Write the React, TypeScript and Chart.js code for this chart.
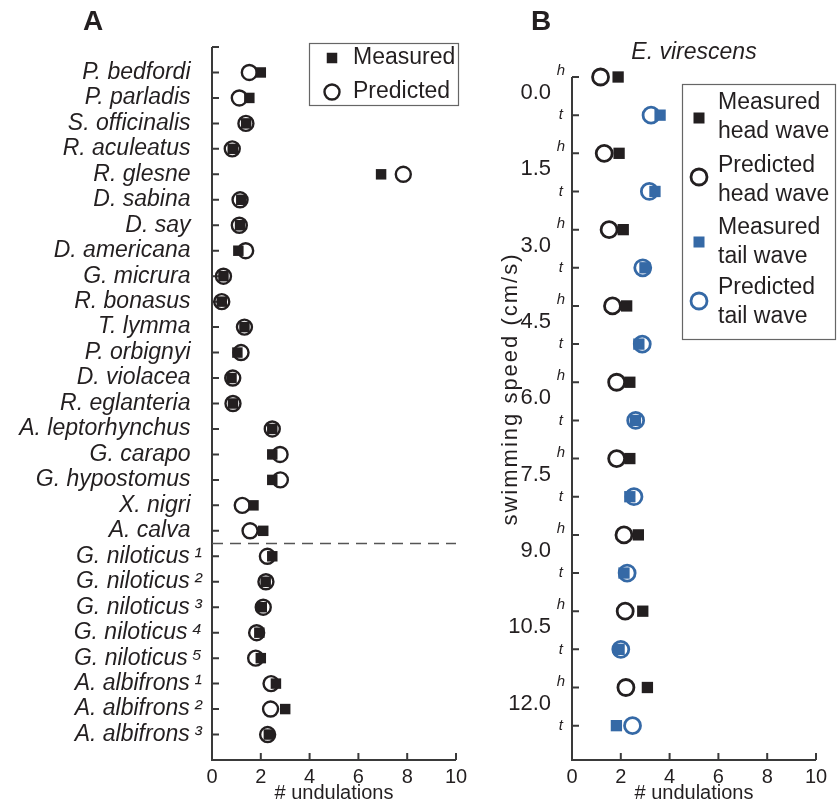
import React, { useEffect, useRef } from 'react';
import { Chart, registerables } from 'chart.js';
Chart.register(...registerables);

const FONT = "'Liberation Sans', Arial, Helvetica, sans-serif";
const INK = '#231f20';
const AXIS = '#3a3a3a';
const BLUE = '#3569a6';

// ---------- Panel A data ----------
const speciesA = [
  'P. bedfordi', 'P. parladis', 'S. officinalis', 'R. aculeatus', 'R. glesne', 'D. sabina', 'D. say',
  'D. americana', 'G. micrura', 'R. bonasus', 'T. lymma', 'P. orbignyi', 'D. violacea', 'R. eglanteria',
  'A. leptorhynchus', 'G. carapo', 'G. hypostomus', 'X. nigri', 'A. calva',
  'G. niloticus', 'G. niloticus', 'G. niloticus', 'G. niloticus', 'G. niloticus',
  'A. albifrons', 'A. albifrons', 'A. albifrons',
];
const specimenA = ['', '', '', '', '', '', '', '', '', '', '', '', '', '', '', '', '', '', '', '¹', '²', '³', '⁴', '⁵', '¹', '²', '³'];
const measuredA = [2.0, 1.53, 1.4, 0.85, 6.93, 1.2, 1.15, 1.08, 0.47, 0.4, 1.33, 1.04, 0.8, 0.86, 2.47, 2.47, 2.47, 1.7, 2.1, 2.47, 2.2, 2.04, 1.94, 2.0, 2.62, 3.0, 2.33];
const predictedA = [1.53, 1.12, 1.39, 0.83, 7.84, 1.15, 1.12, 1.38, 0.47, 0.4, 1.33, 1.19, 0.85, 0.86, 2.47, 2.79, 2.8, 1.24, 1.56, 2.27, 2.21, 2.1, 1.83, 1.79, 2.42, 2.4, 2.28];
const groupSplitAfter = 19;
const xTicks = [0, 2, 4, 6, 8, 10];

// ---------- Panel B data ----------
const speedsB = ['0.0', '1.5', '3.0', '4.5', '6.0', '7.5', '9.0', '10.5', '12.0'];
const waveTags = ['h', 't'];
const measuredHeadB = [1.89, 1.93, 2.1, 2.24, 2.37, 2.37, 2.72, 2.9, 3.09];
const predictedHeadB = [1.17, 1.32, 1.52, 1.66, 1.83, 1.83, 2.13, 2.18, 2.21];
const measuredTailB = [3.61, 3.4, 2.99, 2.74, 2.6, 2.37, 2.13, 1.93, 1.82];
const predictedTailB = [3.24, 3.17, 2.9, 2.88, 2.61, 2.54, 2.26, 2.0, 2.48];

function speciesLabel(i: number) {
  const sup = specimenA[i];
  return sup ? `${speciesA[i]}\u2009${sup}` : `${speciesA[i]}\u2002`;
}

function drawSquare(ctx: CanvasRenderingContext2D, x: number, y: number, side: number, color: string) {
  ctx.fillStyle = color;
  ctx.fillRect(x - side / 2, y - side / 2, side, side);
}
function drawCircle(ctx: CanvasRenderingContext2D, x: number, y: number, r: number, lw: number, color: string) {
  ctx.strokeStyle = color;
  ctx.lineWidth = lw;
  ctx.beginPath();
  ctx.arc(x, y, r, 0, Math.PI * 2);
  ctx.stroke();
}

function drawAxes(chart: any, yCount: number) {
  const { ctx, chartArea: ca, scales } = chart;
  const x = scales.x, y = scales.y;
  ctx.save();
  ctx.strokeStyle = AXIS;
  ctx.lineWidth = 2;
  ctx.lineCap = 'butt';
  ctx.beginPath();
  ctx.moveTo(ca.left, ca.top);
  ctx.lineTo(ca.left, ca.bottom);
  ctx.lineTo(ca.right, ca.bottom);
  ctx.stroke();
  ctx.beginPath();
  for (let v = 0; v < yCount; v++) {
    const py = y.getPixelForValue(v);
    ctx.moveTo(ca.left, py);
    ctx.lineTo(ca.left + 7, py);
  }
  for (const v of xTicks) {
    const px = x.getPixelForValue(v);
    ctx.moveTo(px, ca.bottom);
    ctx.lineTo(px, ca.bottom - 7);
  }
  ctx.stroke();
  ctx.restore();
}

const decorA = {
  id: 'decorA',
  beforeDatasetsDraw(chart: any) {
    drawAxes(chart, speciesA.length + 1);
    const { ctx, chartArea: ca, scales } = chart;
    ctx.save();
    ctx.setLineDash([11, 7]);
    ctx.lineWidth = 1.5;
    ctx.strokeStyle = '#555';
    const sy = scales.y.getPixelForValue(groupSplitAfter + 0.5);
    ctx.beginPath();
    ctx.moveTo(ca.left, sy);
    ctx.lineTo(ca.right, sy);
    ctx.stroke();
    ctx.restore();
  },
  afterDraw(chart: any) {
    const { ctx } = chart;
    ctx.save();
    ctx.fillStyle = INK;
    ctx.font = `bold 28px ${FONT}`;
    ctx.textAlign = 'center';
    ctx.textBaseline = 'middle';
    ctx.fillText('A', 93, 22);
    // legend
    ctx.fillStyle = '#fff';
    ctx.fillRect(309, 43, 149, 62);
    ctx.strokeStyle = '#666';
    ctx.lineWidth = 1.2;
    ctx.strokeRect(309.5, 43.5, 149, 62);
    drawSquare(ctx, 332, 58, 10.5, INK);
    drawCircle(ctx, 332, 92, 7.5, 2.4, INK);
    ctx.fillStyle = INK;
    ctx.font = `23px ${FONT}`;
    ctx.textAlign = 'left';
    ctx.fillText('Measured', 353, 58);
    ctx.fillText('Predicted', 353, 92);
    ctx.restore();
  },
};

const decorB = {
  id: 'decorB',
  beforeDatasetsDraw(chart: any) {
    drawAxes(chart, speedsB.length * 2);
    const { ctx, chartArea: ca, scales } = chart;
    ctx.save();
    ctx.fillStyle = INK;
    ctx.font = `italic 15px ${FONT}`;
    ctx.textAlign = 'right';
    ctx.textBaseline = 'middle';
    for (let i = 0; i < speedsB.length * 2; i++) {
      const py = scales.y.getPixelForValue(i);
      const tag = waveTags[i % 2];
      if (tag === 'h') ctx.fillText(tag, ca.left - 7, py - 6);
      else ctx.fillText(tag, ca.left - 9, py);
    }
    ctx.restore();
  },
  afterDraw(chart: any) {
    const { ctx, chartArea: ca } = chart;
    ctx.save();
    ctx.fillStyle = INK;
    ctx.textAlign = 'center';
    ctx.textBaseline = 'middle';
    ctx.font = `bold 28px ${FONT}`;
    ctx.fillText('B', 61, 22);
    ctx.font = `italic 23px ${FONT}`;
    ctx.fillText('E. virescens', (ca.left + ca.right) / 2, 53);
    ctx.save();
    ctx.translate(31, 389);
    ctx.rotate(-Math.PI / 2);
    ctx.font = `22px ${FONT}`;
    try { (ctx as any).letterSpacing = '2px'; } catch (e) { /* ignore */ }
    ctx.fillText('swimming speed (cm/s)', 0, 0);
    ctx.restore();
    // legend
    ctx.fillStyle = '#fff';
    ctx.fillRect(202, 84, 153, 255);
    ctx.strokeStyle = '#666';
    ctx.lineWidth = 1.2;
    ctx.strokeRect(202.5, 84.5, 153, 255);
    drawSquare(ctx, 219, 118, 11, INK);
    drawCircle(ctx, 219, 177, 8, 2.8, INK);
    drawSquare(ctx, 219, 242, 11, BLUE);
    drawCircle(ctx, 219, 301, 8, 2.8, BLUE);
    ctx.fillStyle = INK;
    ctx.font = `23px ${FONT}`;
    ctx.textAlign = 'left';
    const lines = [
      ['Measured', 'head wave'],
      ['Predicted', 'head wave'],
      ['Measured', 'tail wave'],
      ['Predicted', 'tail wave'],
    ];
    const tops = [103, 166, 228, 288];
    lines.forEach((ls, i) => {
      ctx.fillText(ls[0], 238, tops[i]);
      ctx.fillText(ls[1], 238, tops[i] + 29);
    });
    ctx.restore();
  },
};

function zeroPad(s: any) {
  s.paddingLeft = 0;
  s.paddingRight = 0;
  s.paddingTop = 0;
  s.paddingBottom = 0;
}

function xScale() {
  return {
    type: 'linear',
    min: 0,
    max: 10,
    grid: { display: false, drawTicks: false },
    border: { display: false },
    afterBuildTicks: (s: any) => { s.ticks = xTicks.map((v) => ({ value: v })); },
    ticks: { color: INK, padding: 5, font: { family: FONT, size: 20 } },
    title: { display: true, text: '# undulations', color: INK, font: { family: FONT, size: 20 }, padding: 0 },
    afterFit: (s: any) => { s.height = 45; zeroPad(s); },
  };
}

function makeChartA(canvas: HTMLCanvasElement) {
  const rows = speciesA.map((_, i) => i + 1);
  return new Chart(canvas, {
    type: 'scatter',
    data: {
      datasets: [
        {
          label: 'Measured',
          data: measuredA.map((v, i) => ({ x: v, y: i + 1 })),
          pointStyle: 'rect',
          pointRadius: 7.4,
          backgroundColor: INK,
          borderWidth: 0,
          pointBorderWidth: 0,
          clip: false,
        },
        {
          label: 'Predicted',
          data: predictedA.map((v, i) => ({ x: v, y: i + 1 })),
          pointStyle: 'circle',
          pointRadius: 7.5,
          backgroundColor: 'rgba(0,0,0,0)',
          borderColor: INK,
          pointBorderWidth: 2.4,
          clip: false,
        },
      ],
    },
    options: {
      animation: false,
      responsive: false,
      devicePixelRatio: 1,
      events: [],
      layout: { padding: { left: 0, top: 47, right: 19, bottom: 0 } },
      plugins: { legend: { display: false }, tooltip: { enabled: false } },
      scales: {
        x: xScale(),
        y: {
          type: 'linear',
          reverse: true,
          min: 0,
          max: speciesA.length + 1,
          grid: { display: false, drawTicks: false },
          border: { display: false },
          afterBuildTicks: (s: any) => { s.ticks = rows.map((v) => ({ value: v })); },
          ticks: {
            autoSkip: false,
            color: INK,
            padding: 10,
            font: { family: FONT, size: 23, style: 'italic' },
            callback: (v: any) => speciesLabel(Math.round(v) - 1),
          },
          afterFit: (s: any) => { s.width = 212; zeroPad(s); },
        },
      },
    } as any,
    plugins: [decorA],
  });
}

function makeChartB(canvas: HTMLCanvasElement) {
  const yMax = 17.9;
  return new Chart(canvas, {
    type: 'scatter',
    data: {
      datasets: [
        {
          label: 'Measured head wave',
          data: measuredHeadB.map((v, i) => ({ x: v, y: 2 * i })),
          pointStyle: 'rect',
          pointRadius: 8,
          backgroundColor: INK,
          pointBorderWidth: 0,
          borderWidth: 0,
          clip: false,
        },
        {
          label: 'Measured tail wave',
          data: measuredTailB.map((v, i) => ({ x: v, y: 2 * i + 1 })),
          pointStyle: 'rect',
          pointRadius: 8,
          backgroundColor: BLUE,
          pointBorderWidth: 0,
          borderWidth: 0,
          clip: false,
        },
        {
          label: 'Predicted head wave',
          data: predictedHeadB.map((v, i) => ({ x: v, y: 2 * i })),
          pointStyle: 'circle',
          pointRadius: 8,
          backgroundColor: 'rgba(0,0,0,0)',
          borderColor: INK,
          pointBorderWidth: 2.8,
          clip: false,
        },
        {
          label: 'Predicted tail wave',
          data: predictedTailB.map((v, i) => ({ x: v, y: 2 * i + 1 })),
          pointStyle: 'circle',
          pointRadius: 8,
          backgroundColor: 'rgba(0,0,0,0)',
          borderColor: BLUE,
          pointBorderWidth: 2.8,
          clip: false,
        },
      ],
    },
    options: {
      animation: false,
      responsive: false,
      devicePixelRatio: 1,
      events: [],
      layout: { padding: { left: 0, top: 77, right: 22, bottom: 0 } },
      plugins: { legend: { display: false }, tooltip: { enabled: false } },
      scales: {
        x: xScale(),
        y: {
          type: 'linear',
          position: 'left',
          weight: 0,
          reverse: true,
          min: 0,
          max: yMax,
          grid: { display: false, drawTicks: false },
          border: { display: false },
          ticks: { display: false },
          afterFit: (s: any) => { s.width = 20; zeroPad(s); },
        },
        y2: {
          type: 'linear',
          position: 'left',
          weight: 1,
          reverse: true,
          min: 0,
          max: yMax,
          grid: { display: false, drawTicks: false },
          border: { display: false },
          afterBuildTicks: (s: any) => { s.ticks = speedsB.map((_, i) => ({ value: 2 * i + 0.42 })); },
          ticks: {
            autoSkip: false,
            color: INK,
            padding: 1,
            font: { family: FONT, size: 22 },
            callback: (_v: any, i: number) => speedsB[i],
          },
          afterFit: (s: any) => { s.width = 72; zeroPad(s); },
        },
      },
    } as any,
    plugins: [decorB],
  });
}

export default function App() {
  const refA = useRef<HTMLCanvasElement>(null);
  const refB = useRef<HTMLCanvasElement>(null);
  useEffect(() => {
    const a = makeChartA(refA.current as HTMLCanvasElement);
    const b = makeChartB(refB.current as HTMLCanvasElement);
    return () => {
      a.destroy();
      b.destroy();
    };
  }, []);
  return (
    <div style={{ position: 'absolute', left: 0, top: 0, width: 838, height: 805, background: '#fff' }}>
      <canvas ref={refA} width={475} height={805} style={{ position: 'absolute', left: 0, top: 0 }} />
      <canvas ref={refB} width={358} height={805} style={{ position: 'absolute', left: 480, top: 0 }} />
    </div>
  );
}
